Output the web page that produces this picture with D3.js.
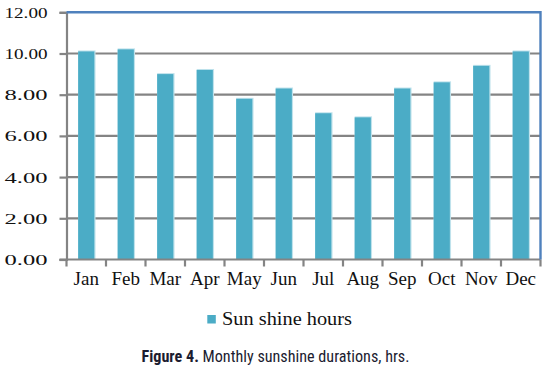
<!DOCTYPE html>
<html><head><meta charset="utf-8">
<script src="https://cdn.jsdelivr.net/npm/d3@7"></script>
<style>body{margin:0;background:#fff}svg{display:block}</style>
</head><body>
<svg id="c" width="548" height="369"></svg>
<script>
const months = ["Jan","Feb","Mar","Apr","May","Jun","Jul","Aug","Sep","Oct","Nov","Dec"];
const sunHours = [10.1,10.2,9.0,9.2,7.8,8.3,7.1,6.9,8.3,8.6,9.4,10.1];
const yTicks = [0,2,4,6,8,10,12];
const seriesName = "Sun shine hours";
const caption = ["Figure 4.", " Monthly sunshine durations, hrs."];

const svg = d3.select("#c");
const L = 66.5, R = 540.5, T = 12.3, B = 259.5;
const x = d3.scaleBand().domain(months).range([L, R]).paddingInner(0.59).paddingOuter(0.295);
const xb = d3.scaleBand().domain(months).range([L, R]);
const y = d3.scaleLinear().domain([0, 12]).range([B, T]);
const barColor = "#4BACC6";

// gridlines
svg.append("g").selectAll("line").data(yTicks.filter(d => d > 0 && d < 12)).join("line")
  .attr("x1", L).attr("x2", R).attr("y1", d => y(d)).attr("y2", d => y(d))
  .attr("stroke", "#848484").attr("stroke-width", 2.2);

// y axis
const yAxis = d3.axisLeft(y).tickValues(yTicks).tickFormat(d3.format(".2f")).tickSize(7).tickPadding(12);
const yg = svg.append("g").attr("transform", `translate(${L},0)`).call(yAxis);
yg.select(".domain").attr("stroke", "#848484").attr("stroke-width", 2.2);
yg.selectAll(".tick line").attr("stroke", "#848484").attr("stroke-width", 2.2);
yg.selectAll(".tick text").attr("font-family", "'Liberation Serif', serif").attr("font-size", 14)
  .attr("fill", "#111").attr("dy", "0.36em")
  .attr("textLength", 43).attr("lengthAdjust", "spacingAndGlyphs");

// bars: light edge then bar
const bars = svg.append("g");
bars.selectAll("rect.edge").data(sunHours).join("rect").attr("class", "edge")
  .attr("x", (d, i) => x(months[i])).attr("width", x.bandwidth() + 1.2)
  .attr("y", d => y(d) - 1).attr("height", d => B - y(d) + 1)
  .attr("fill", "#bfe2ec");
bars.selectAll("rect.bar").data(sunHours).join("rect").attr("class", "bar")
  .attr("x", (d, i) => x(months[i])).attr("width", x.bandwidth())
  .attr("y", d => y(d)).attr("height", d => B - y(d))
  .attr("fill", barColor);

// x axis
const xg = svg.append("g").attr("transform", `translate(0,${B})`);
xg.append("line").attr("x1", L - 7).attr("x2", R).attr("stroke", "#848484").attr("stroke-width", 2.2);
const bounds = months.map(m => xb(m)).concat([R]);
xg.selectAll("line.t").data(bounds).join("line").attr("class", "t")
  .attr("x1", d => d).attr("x2", d => d).attr("y1", 0).attr("y2", 7)
  .attr("stroke", "#848484").attr("stroke-width", 2.2);
xg.selectAll("text").data(months).join("text")
  .attr("x", d => xb(d) + xb.bandwidth() / 2).attr("y", 25.2)
  .attr("text-anchor", "middle").attr("font-family", "'Liberation Serif', serif")
  .attr("font-size", 19).attr("fill", "#111").text(d => d);

// top and right border
svg.append("path").attr("d", `M${L},${T}H${R}V${B}`).attr("fill", "none")
  .attr("stroke", "#4F81BD").attr("stroke-width", 2.4);

// legend
svg.append("rect").attr("x", 207.3).attr("y", 315).attr("width", 8.5).attr("height", 8.5).attr("fill", barColor);
svg.append("text").attr("x", 222).attr("y", 324.5).attr("font-family", "'Liberation Serif', serif")
  .attr("font-size", 18).attr("fill", "#111").attr("textLength", 130).attr("lengthAdjust", "spacingAndGlyphs")
  .text(seriesName);

// caption
const cap = svg.append("text").attr("x", 141.5).attr("y", 361.5)
  .attr("font-family", "'Liberation Sans Narrow', 'Roboto Condensed', 'Liberation Sans', sans-serif")
  .attr("font-size", 16.5).attr("fill", "#1c1c30").attr("textLength", 268).attr("lengthAdjust", "spacingAndGlyphs");
cap.append("tspan").attr("font-weight", "bold").text(caption[0]);
cap.append("tspan").attr("font-weight", "normal").text(caption[1]);
</script>
</body></html>
